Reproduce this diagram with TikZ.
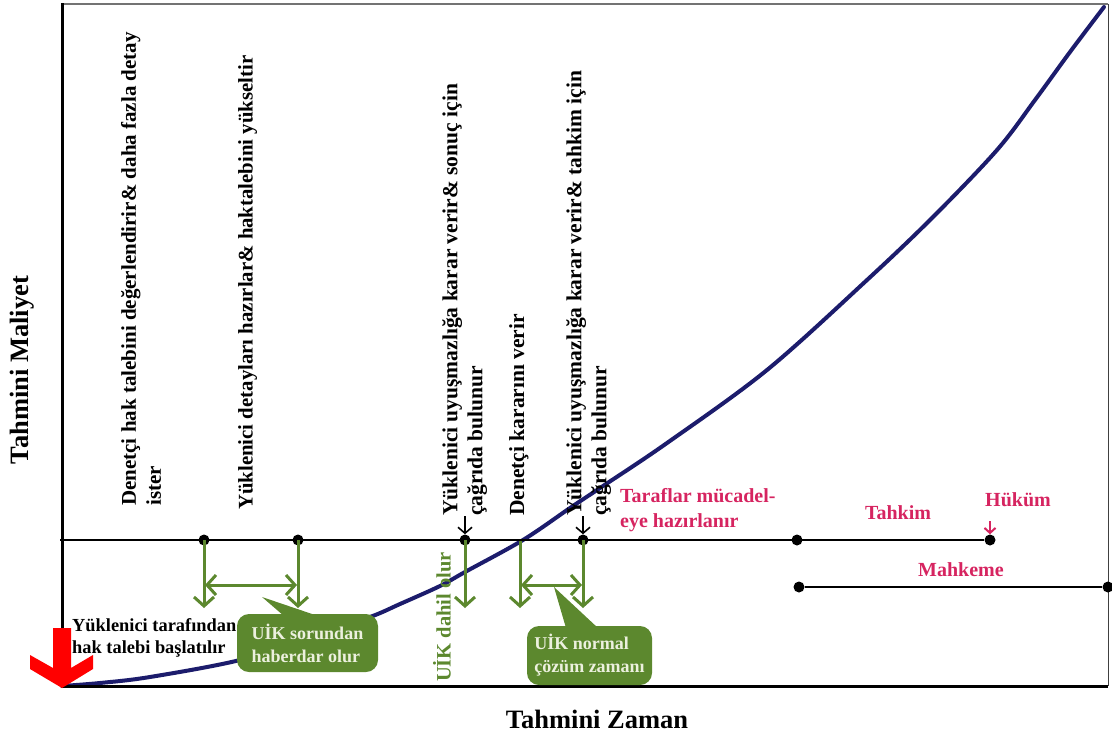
\documentclass[tikz,border=0pt]{standalone}
\usepackage{fontspec}
\setmainfont{Liberation Serif}
\usetikzlibrary{arrows.meta}

\definecolor{curveblue}{RGB}{28,28,108}
\definecolor{leafgreen}{RGB}{92,136,46}
\definecolor{rosered}{RGB}{214,36,96}
\definecolor{boxtext}{RGB}{236,240,222}

\begin{document}
\begin{tikzpicture}[x=1pt,y=-1pt,
  dot/.style={circle, fill=black, inner sep=0pt, minimum size=11pt},
  vtext/.style={rotate=90, anchor=north west, inner sep=0pt, align=left,
    font=\bfseries\fontsize{21.5}{25}\selectfont},
  htext/.style={inner sep=0pt, align=left, font=\bfseries\fontsize{18.4}{22}\selectfont},
  pinktext/.style={inner sep=0pt, align=left, text=rosered, font=\bfseries\fontsize{20}{25}\selectfont},
  axislabel/.style={inner sep=0pt, font=\bfseries\fontsize{26.5}{30}\selectfont},
  garrow/.style={leafgreen, line width=3pt, -{Straight Barb[length=9pt,width=20pt]}},
  gdouble/.style={leafgreen, line width=3pt, {Straight Barb[length=9pt,width=20pt]}-{Straight Barb[length=9pt,width=20pt]}},
  karrow/.style={black, line width=1.6pt, -{Straight Barb[length=6pt,width=14pt]}},
  callout/.style={rounded corners=12pt, fill=leafgreen, text=boxtext, inner sep=0pt,
    align=left, font=\bfseries\fontsize{18}{23}\selectfont},
]
\useasboundingbox (0,0) rectangle (1112,737);

% ---- frame and axes ----
\coordinate (O)  at (62,686);
\coordinate (Ytop) at (62,3);
\coordinate (TL) at (62,4);
\coordinate (TR) at (1108,4);
\coordinate (BR) at (1108,686);
\draw[black!55, line width=1.5pt] (TL) -- (TR);
\draw[black!75, line width=1pt] (TR) -- (BR);

% ---- cost curve ----
\draw[curveblue, line width=4pt, line cap=round]
  plot[smooth, tension=0.55] coordinates {
    (62,686) (100,683) (150,677) (240,660) (310,637) (370,617) (400,604)
    (440,586) (465,572) (523,540) (570,508) (600,488) (667,443) (767,370)
    (867,280) (933,217) (997,150) (1035,100) (1070,52) (1104,7)};

\draw[line width=3pt] (Ytop) -- (O) -- (BR);

% ---- timeline ----
\node[dot] (d1) at (204,540) {};
\node[dot] (d2) at (298,540) {};
\node[dot] (d3) at (465,540) {};
\coordinate (d4) at (520,541);
\node[dot] (d5) at (583,540) {};
\node[dot] (d6) at (797,540) {};
\node[dot] (hk) at (990,540) {};
\coordinate (L0) at (60,540);
\draw[line width=2.5pt] (L0) -- (hk);

% court track
\node[dot] (m1) at (799,587) {};
\node[dot] (m2) at (1108,587) {};
\draw[line width=2.5pt] (m1) -- (m2);

% ---- black arrows onto the timeline ----
\coordinate (k3) at (465,516);
\coordinate (k5) at (583,516);
\draw[karrow] (k3) -- (d3.north);
\draw[karrow] (k5) -- (d5.north);

% ---- green arrows ----
\coordinate (g1) at (204,608);
\coordinate (g2) at (298,608);
\coordinate (g3) at (465,608);
\coordinate (g4) at (520,608);
\coordinate (g5) at (583,608);
\draw[garrow] (d1.center) -- (g1);
\draw[garrow] (d2.center) -- (g2);
\draw[garrow] (d3.center) -- (g3);
\draw[garrow] (d4) -- (g4);
\draw[garrow] (d5.center) -- (g5);
\coordinate (h1a) at (205,585);
\coordinate (h1b) at (297,585);
\coordinate (h2a) at (521,585);
\coordinate (h2b) at (582,585);
\draw[gdouble] (h1a) -- (h1b);
\draw[gdouble] (h2a) -- (h2b);

% ---- callouts ----
\node[callout, minimum width=141pt, minimum height=58pt] (c1) at (307.5,643)
  {UİK sorundan\\haberdar olur};
\coordinate (c1tip) at (262,597);
\fill[leafgreen] (c1tip) -- (318,616) -- (284,616) -- cycle;

\node[callout, minimum width=125pt, minimum height=59pt] (c2) at (589.5,655.5)
  {UİK normal\\çözüm zamanı};
\coordinate (c2tip) at (554,587);
\fill[leafgreen] (c2tip) -- (598,628) -- (566,628) -- cycle;

\node[rotate=90, inner sep=0pt, text=leafgreen, font=\bfseries\fontsize{20.5}{24}\selectfont]
  (uik) at (442,617) {UİK dahil olur};

% ---- red start arrow ----
\fill[red] (53,628) -- (53,668) -- (30,655) -- (30,669) -- (62,688)
  -- (93,669) -- (93,655) -- (71,668) -- (71,628) -- cycle;

% ---- step descriptions ----
\node[vtext, font=\bfseries\fontsize{21}{25}\selectfont] (t1) at (121,506)
  {Denetçi hak talebini değerlendirir\& daha fazla detay\\ister};
\node[vtext, font=\bfseries\fontsize{20.8}{25}\selectfont] (t2) at (238,510)
  {Yüklenici detayları hazırlar\& haktalebini yükseltir};
\node[vtext] (t3) at (442,516) {Yüklenici uyuşmazlığa karar verir\& sonuç için\\çağrıda bulunur};
\node[vtext] (t4) at (509,516) {Denetçi kararını verir};
\node[vtext] (t5) at (566,516) {Yüklenici uyuşmazlığa karar verir\& tahkim için\\çağrıda bulunur};

\node[htext, anchor=north west] (t0) at (72,618) {Yüklenici tarafından\\hak talebi başlatılır};

% ---- dispute stages ----
\node[pinktext, anchor=north west] (p1) at (620,488) {Taraflar mücadel-\\eye hazırlanır};
\node[pinktext] (p2) at (898,513) {Tahkim};
\node[pinktext] (p3) at (1018,500) {Hüküm};
\node[pinktext] (p4) at (961,570) {Mahkeme};
\coordinate (hka) at (990,521);
\draw[rosered, line width=2pt, -{Straight Barb[length=5pt,width=11pt]}] (hka) -- (hk.north);

% ---- axis labels ----
\node[axislabel] (xl) at (597,719) {Tahmini Zaman};
\node[axislabel, rotate=90] (yl) at (22,370) {Tahmini Maliyet};
\end{tikzpicture}
\end{document}
